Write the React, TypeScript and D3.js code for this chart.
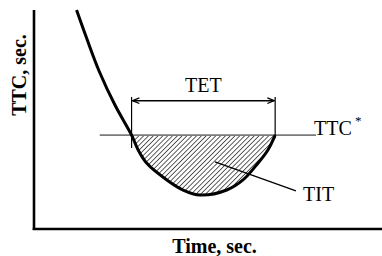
import React from "react";
import * as d3 from "d3";

// Schematic data (arbitrary units: time 0..100, TTC 0..100)
const timeVals = [12.3, 15.2, 18.9, 23.4, 28.2, 30.1, 32.6, 38.4, 43.1, 48.0, 55.7, 60.4, 64.7, 67.6, 69.7];
const ttcVals = [100, 87.2, 71.8, 56.6, 42.9, 36.1, 30.0, 22.4, 17.8, 15.5, 17.8, 22.4, 30.0, 36.1, 42.9];
const threshold = 42.9;
const thresholdRange = [19, 81.5];
const tetRange = [28.2, 69.7];
const leader = [
  [52.3, 30.6],
  [75.7, 17.4],
];
const xLabel = "Time, sec.";
const yLabel = "TTC, sec.";
const tetLabel = "TET";
const titLabel = "TIT";
const ttcLabel = "TTC";

const W = 382;
const H = 256;

export default function App() {
  const x = d3.scaleLinear().domain([0, 100]).range([34, 380]);
  const y = d3.scaleLinear().domain([0, 100]).range([229, 10]);
  const pts: [number, number][] = timeVals.map((t, i) => [t, ttcVals[i]]);
  const line = d3
    .line<[number, number]>()
    .x((d) => x(d[0]))
    .y((d) => y(d[1]))
    .curve(d3.curveCatmullRom);
  const area = d3
    .area<[number, number]>()
    .x((d) => x(d[0]))
    .y0(y(threshold))
    .y1((d) => y(d[1]))
    .curve(d3.curveCatmullRom);
  const font = "'Liberation Serif', 'Times New Roman', serif";
  const ty = y(threshold);
  const arrowY = 100.7;
  return (
    <svg
      width={W}
      height={H}
      style={{ position: "absolute", left: 0, top: 0, background: "#fff" }}
    >
      <defs>
        <pattern
          id="hatch"
          width={3.4}
          height={3.4}
          patternUnits="userSpaceOnUse"
          patternTransform="rotate(45)"
        >
          <line x1={0} y1={0} x2={0} y2={3.4} stroke="#2a2a2a" strokeWidth={1.5} />
        </pattern>
        <clipPath id="below">
          <rect x={x(tetRange[0])} y={ty} width={x(tetRange[1]) - x(tetRange[0])} height={200} />
        </clipPath>
        <marker
          id="arr"
          viewBox="0 0 10 10"
          refX={9.5}
          refY={5}
          markerWidth={8}
          markerHeight={8}
          markerUnits="userSpaceOnUse"
          orient="auto-start-reverse"
        >
          <path d="M1,1.5 L9.5,5 L1,8.5" fill="none" stroke="#000" strokeWidth={1.6} />
        </marker>
      </defs>

      {/* hatched area */}
      <path d={area(pts) || ""} fill="url(#hatch)" clipPath="url(#below)" />

      {/* threshold line */}
      <line
        x1={x(thresholdRange[0])}
        x2={x(thresholdRange[1])}
        y1={ty}
        y2={ty}
        stroke="#7a7a7a"
        strokeWidth={1.8}
      />

      {/* TET markers */}
      <line x1={x(tetRange[0])} x2={x(tetRange[0])} y1={97} y2={148} stroke="#000" strokeWidth={1.2} />
      <line x1={x(tetRange[1])} x2={x(tetRange[1])} y1={97} y2={138} stroke="#000" strokeWidth={1.2} />
      <line
        x1={x(tetRange[0]) + 1}
        x2={x(tetRange[1]) - 1}
        y1={arrowY}
        y2={arrowY}
        stroke="#000"
        strokeWidth={1.4}
        markerStart="url(#arr)"
        markerEnd="url(#arr)"
      />

      {/* curve */}
      <path d={line(pts) || ""} fill="none" stroke="#000" strokeWidth={3} />

      {/* leader line */}
      <line
        x1={x(leader[0][0])}
        y1={y(leader[0][1])}
        x2={x(leader[1][0])}
        y2={y(leader[1][1])}
        stroke="#000"
        strokeWidth={1.3}
      />

      {/* axes */}
      <line x1={34} x2={34} y1={10} y2={230} stroke="#000" strokeWidth={2.6} />
      <line x1={32.7} x2={382} y1={229} y2={229} stroke="#000" strokeWidth={2.6} />

      {/* texts */}
      <text x={(x(tetRange[0]) + x(tetRange[1])) / 2} y={92} fontFamily={font} fontSize={20} textAnchor="middle">
        {tetLabel}
      </text>
      <text x={314} y={135} fontFamily={font} fontSize={20}>
        {ttcLabel}
      </text>
      <text x={355} y={125} fontFamily={font} fontSize={13}>
        *
      </text>
      <text x={303} y={201} fontFamily={font} fontSize={20}>
        {titLabel}
      </text>
      <text x={214.5} y={253} fontFamily={font} fontSize={20} fontWeight="bold" textAnchor="middle">
        {xLabel}
      </text>
      <text
        transform="translate(25.5,75) rotate(-90)"
        fontFamily={font}
        fontSize={20}
        fontWeight="bold"
        textAnchor="middle"
      >
        {yLabel}
      </text>
    </svg>
  );
}
